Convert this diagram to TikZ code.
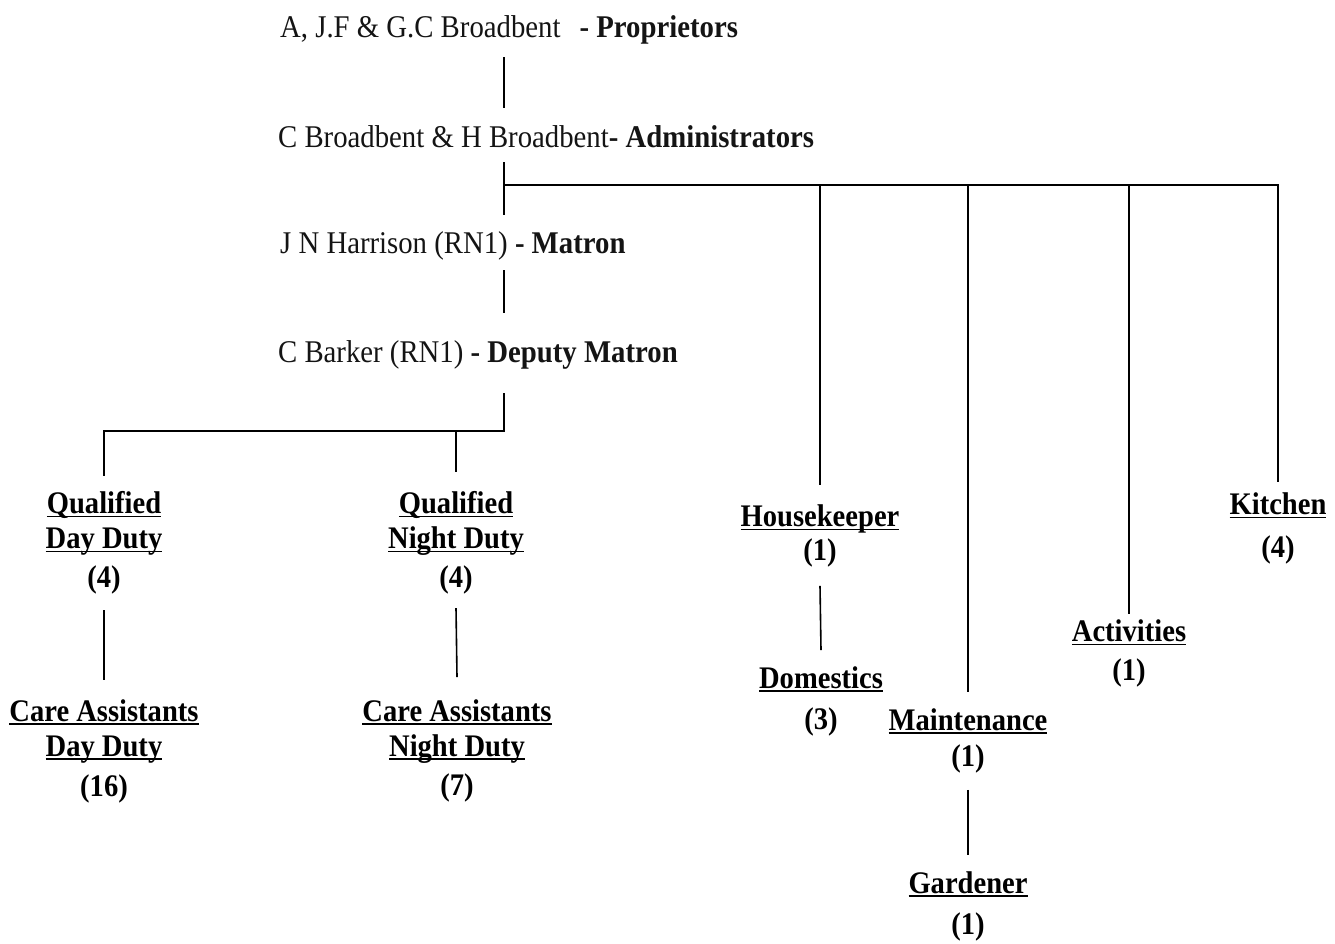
\documentclass[tikz,border=0pt]{standalone}
\usepackage{fontspec}
\setmainfont{Liberation Serif}[FakeStretch=0.91]
\usetikzlibrary{calc}
\newsavebox\ulbox
\newcommand{\myul}[1]{\sbox\ulbox{#1}\rlap{\rule[-3.5pt]{\wd\ulbox}{1.3pt}}\usebox\ulbox}
\tikzset{
  person/.style={anchor=base west, inner sep=0pt, text height=20pt, text depth=6pt,
                 font=\fontsize{31.6}{34}\selectfont, text=black!92},
  unit/.style={anchor=north, inner sep=0pt, align=center,
               font=\fontsize{31.4}{35}\selectfont\bfseries, text=black},
  link/.style={line width=1.6pt, black}
}
\begin{document}
\begin{tikzpicture}[x=1pt,y=-1pt]
\useasboundingbox[fill=white] (0,0) rectangle (1335,943);
% top chain
\node[person] (p)   at (280,37)  {A, J.F \& G.C Broadbent\hspace{19pt}\textbf{- Proprietors}};
\node[person] (adm) at (278,147) {C Broadbent \& H Broadbent\textbf{- Administrators}};
\node[person] (mat) at (280,253) {J N Harrison (RN1) \textbf{- Matron}};
\node[person] (dep) at (278,362) {C Barker (RN1) \textbf{- Deputy Matron}};
% units
\node[unit] (qd)  at (104,491) {\myul{Qualified}\\\myul{Day Duty}\\[4pt](4)};
\node[unit] (cad) at (104,699) {\myul{Care Assistants}\\\myul{Day Duty}\\[5pt](16)};
\node[unit] (qn)  at (456,491) {\myul{Qualified}\\\myul{Night Duty}\\[4pt](4)};
\node[unit] (can) at (457,699) {\myul{Care Assistants}\\\myul{Night Duty}\\[4pt](7)};
\node[unit] (hk)  at (820,505) {\myul{Housekeeper}\\[-1pt](1)};
\node[unit] (dom) at (821,666) {\myul{Domestics}\\[6pt](3)};
\node[unit] (act) at (1129,620) {\myul{Activities}\\[4pt](1)};
\node[unit] (kit) at (1278,493) {\myul{Kitchen}\\[8pt](4)};
\node[unit] (mnt) at (968,708) {\myul{Maintenance}\\[1pt](1)};
\node[unit] (gar) at (968,871) {\myul{Gardener}\\[6pt](1)};
% connectors
\coordinate (sp) at (504,0);
\coordinate (bar1) at (504,185);
\coordinate (bar2) at (504,431);
\draw[link] ($(p.south -| sp)+(0,14)$) -- ($(adm.north -| sp)+(0,-19)$);
\draw[link] ($(adm.south -| sp)+(0,9)$) -- ($(mat.north -| sp)+(0,-18)$);
\draw[link] (bar1) -| ($(kit.north)+(0,-11)$);
\draw[link] (bar1 -| hk) -- ($(hk.north)+(0,-20)$);
\draw[link] (bar1 -| mnt) -- ($(mnt.north)+(0,-16)$);
\draw[link] (bar1 -| act) -- ($(act.north)+(0,-6)$);
\draw[link] ($(mat.south -| sp)+(0,11)$) -- ($(dep.north -| sp)+(0,-29)$);
\draw[link] ($(dep.south -| sp)+(0,25)$) -- (bar2) -| ($(qd.north)+(0,-15)$);
\draw[link] (bar2 -| qn) -- ($(qn.north)+(0,-19)$);
\draw[link] ($(qd.south)+(0,16)$) -- ($(cad.north)+(0,-19)$);
\draw[link] ($(qn.south)+(0,14)$) -- ($(can.north)+(0,-22)$);
\draw[link] ($(hk.south)+(0,18)$) -- ($(dom.north)+(0,-16)$);
\draw[link] ($(mnt.south)+(0,17)$) -- ($(gar.north)+(0,-16)$);
\end{tikzpicture}
\end{document}
